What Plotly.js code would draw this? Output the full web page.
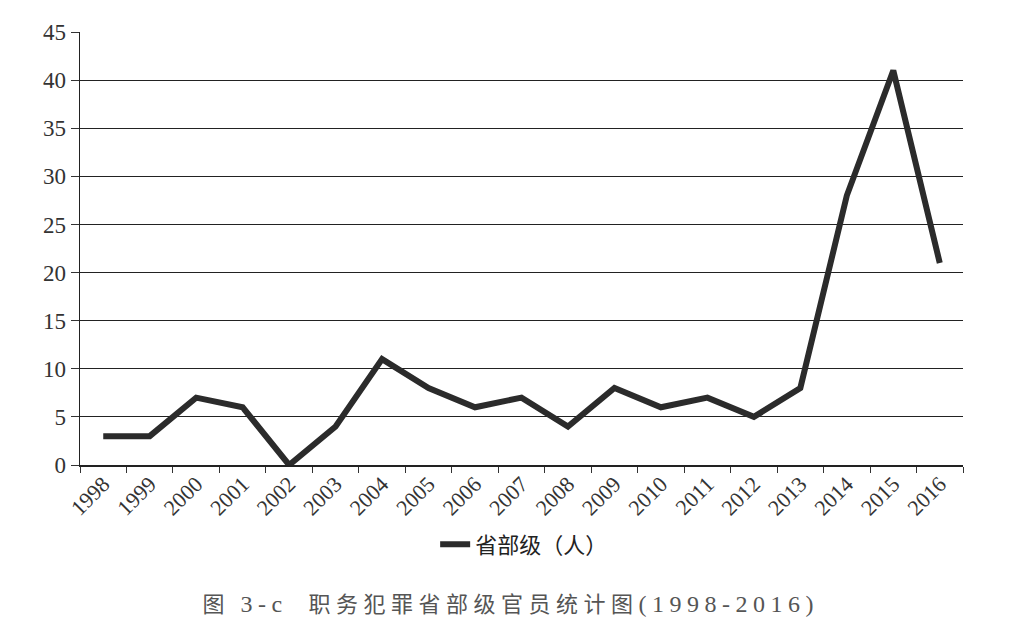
<!DOCTYPE html>
<html>
<head>
<meta charset="utf-8">
<script src="https://cdn.plot.ly/plotly-3.0.1.min.js"></script>
<style>html,body{margin:0;padding:0;background:#fff;}#chart{width:1032px;height:624px;}
#chart .annotation-text{letter-spacing:5.5px;}</style>
</head>
<body>
<div id="chart"></div>
<script>
const years = ['1998','1999','2000','2001','2002','2003','2004','2005','2006','2007','2008','2009','2010','2011','2012','2013','2014','2015','2016'];
const officials = [3,3,7,6,0,4,11,8,6,7,4,8,6,7,5,8,28,41,21];
const seriesName = '省部级（人）';
const captionPrefix = '图';
const captionCode = '3-c';
const captionTitle = '职务犯罪省部级官员统计图';
const captionYears = '(1998-2016)';
const yTicks = [0,5,10,15,20,25,30,35,40,45];

const serif = 'Liberation Serif';
const captionText = captionPrefix + ' <span style="font-family:' + serif + ';font-size:24px">' + captionCode + '</span>  ' +
  captionTitle + '<span style="font-family:' + serif + ';font-size:24px">' + captionYears + '</span>';

const trace = {
  x: years, y: officials, type: 'scatter', mode: 'lines', name: seriesName,
  line: {color: '#2b2b2b', width: 6, shape: 'linear'}
};

const layout = {
  width: 1032, height: 624,
  margin: {l: 80, r: 69, t: 32, b: 159},
  paper_bgcolor: '#ffffff', plot_bgcolor: '#ffffff',
  showlegend: true,
  legend: {orientation: 'h', x: 0.503, xanchor: 'center', y: -0.135, yanchor: 'top',
    font: {family: 'Noto Sans CJK SC', size: 22, color: '#222'}},
  xaxis: {
    type: 'category', tickson: 'boundaries', ticks: 'outside', ticklen: 6, tickcolor: '#333',
    showline: true, linecolor: '#222', linewidth: 1.5, showgrid: false,
    tickangle: -45, tickfont: {family: serif, size: 22, color: '#333'}, ticklabelstandoff: -4,
    range: [-0.5, years.length - 0.5], automargin: false
  },
  yaxis: {
    range: [0, 45], tickvals: yTicks, ticks: 'outside', ticklen: 8, tickcolor: '#333',
    showline: true, linecolor: '#222', linewidth: 1.5,
    showgrid: true, gridcolor: '#222', gridwidth: 1.2, zeroline: false,
    tickfont: {family: serif, size: 23, color: '#333'}, automargin: false
  },
  annotations: [{
    text: captionText, xref: 'paper', yref: 'paper', x: 0.487, y: -0.316, xanchor: 'center', yanchor: 'middle',
    showarrow: false, font: {family: 'Noto Sans CJK SC', size: 22, color: '#555'}
  }]
};

Plotly.newPlot('chart', [trace], layout, {displayModeBar: false, staticPlot: true});
</script>
</body>
</html>
